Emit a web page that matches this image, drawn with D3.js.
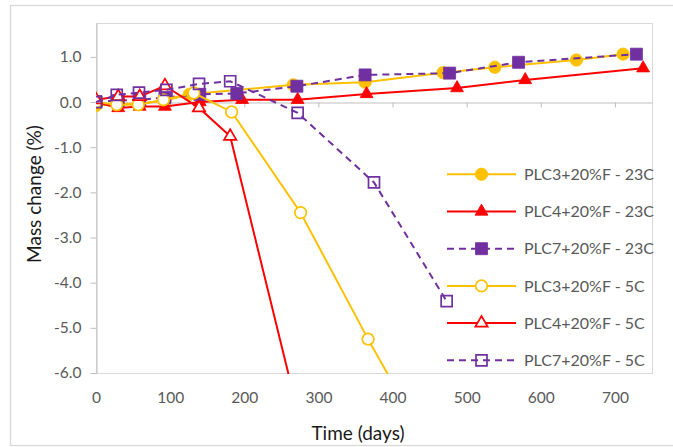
<!DOCTYPE html>
<html><head><meta charset="utf-8">
<script src="https://cdn.jsdelivr.net/npm/d3@7"></script>
<style>
html,body{margin:0;padding:0;background:#fff;}
svg{display:block;font-family:Lato, "Open Sans", sans-serif;}
</style></head>
<body><svg id="c" width="673" height="447"></svg>
<script>
// ---- data ----
const seriesNames = ["PLC3+20%F - 23C","PLC4+20%F - 23C","PLC7+20%F - 23C","PLC3+20%F - 5C","PLC4+20%F - 5C","PLC7+20%F - 5C"];
const days_PLC3_23 = [0, 30, 59, 93, 126, 266, 363, 468, 538, 648, 711];
const mass_PLC3_23 = [-0.08, -0.04, -0.03, 0.03, 0.17, 0.38, 0.44, 0.65, 0.77, 0.93, 1.06];
const days_PLC4_23 = [0, 30, 59, 93, 140, 197, 272, 365, 487, 579, 738];
const mass_PLC4_23 = [0.0, -0.13, -0.1, -0.1, 0.0, 0.05, 0.05, 0.18, 0.31, 0.49, 0.75];
const days_PLC7_23 = [0, 30, 59, 93, 140, 190, 271, 363, 477, 570, 729];
const mass_PLC7_23 = [0.01, 0.03, 0.05, 0.1, 0.17, 0.19, 0.35, 0.6, 0.64, 0.88, 1.06];
const days_PLC3_5 = [0, 28, 57, 91, 132, 183, 276, 367, 475];
const mass_PLC3_5 = [0.0, -0.06, -0.06, 0.05, 0.2, -0.22, -2.45, -5.25, -8.4];
const days_PLC4_5 = [0, 30, 59, 93, 139, 181, 272];
const mass_PLC4_5 = [0.05, 0.12, 0.12, 0.36, -0.13, -0.76, -6.85];
const days_PLC7_5 = [0, 28, 58, 95, 139, 181, 272, 375, 473];
const mass_PLC7_5 = [0.0, 0.16, 0.21, 0.27, 0.4, 0.46, -0.24, -1.78, -4.41];
const xTicks = [0, 100, 200, 300, 400, 500, 600, 700];
const yTicks = [-6, -5, -4, -3, -2, -1, 0, 1];

// ---- styles ----
const YEL = "#FFC000", RED = "#FF0000", PUR = "#7030A0";
const styles = [
  {color: YEL, shape: "circle", filled: true, dash: null},
  {color: RED, shape: "triangle", filled: true, dash: null},
  {color: PUR, shape: "square", filled: true, dash: "7,5"},
  {color: YEL, shape: "circle", filled: false, dash: null},
  {color: RED, shape: "triangle", filled: false, dash: null},
  {color: PUR, shape: "square", filled: false, dash: "7,5"}
];
const dayArrs = [days_PLC3_23, days_PLC4_23, days_PLC7_23, days_PLC3_5, days_PLC4_5, days_PLC7_5];
const massArrs = [mass_PLC3_23, mass_PLC4_23, mass_PLC7_23, mass_PLC3_5, mass_PLC4_5, mass_PLC7_5];
const series = seriesNames.map((n, i) => ({name: n, style: styles[i],
  pts: dayArrs[i].map((d, j) => [d, massArrs[i][j]])}));

const svg = d3.select("#c");
const L = 96, R = 652, T = 23, B = 373;
const x = d3.scaleLinear().domain([0, 750]).range([L, R]);
const y = d3.scaleLinear().domain([-6, 1.75]).range([B, T]);

// chart border
svg.append("rect").attr("x", 10.5).attr("y", 5.5).attr("width", 720).attr("height", 440)
  .attr("fill", "#fff").attr("stroke", "#D9D9D9").attr("stroke-width", 1.3);
// plot area border
svg.append("rect").attr("x", L + 0.5).attr("y", T + 0.5).attr("width", R - L).attr("height", B - T)
  .attr("fill", "none").attr("stroke", "#D9D9D9").attr("stroke-width", 1);

// y axis
const yAx = svg.append("g").attr("transform", `translate(${L + 0.5},0)`)
  .call(d3.axisLeft(y).tickValues(yTicks).tickSize(6).tickSizeOuter(0).tickPadding(9)
    .tickFormat(d => d.toFixed(1)));
yAx.select(".domain").attr("stroke", "#BFBFBF");
yAx.selectAll(".tick line").attr("stroke", "#BFBFBF");
yAx.selectAll("text").attr("fill", "#595959").style("font-size", "15.5px").style("font-family", "Lato");

// x axis on zero line
const x0 = Math.round(y(0)) + 0.5;
const xAx = svg.append("g").attr("transform", `translate(0,${x0})`)
  .call(d3.axisBottom(x).tickValues(xTicks).tickSize(5).tickSizeOuter(0).tickFormat(""));
xAx.select(".domain").attr("stroke", "#BFBFBF");
xAx.selectAll(".tick line").attr("stroke", "#BFBFBF");
// x labels low
const xLab = svg.append("g").attr("transform", `translate(0,${B})`)
  .call(d3.axisBottom(x).tickValues(xTicks).tickSize(0).tickPadding(19).tickFormat(d => d));
xLab.select(".domain").remove();
xLab.selectAll("text").attr("fill", "#595959").style("font-size", "15.5px").style("font-family", "Lato");

// titles
svg.append("text").attr("x", 358).attr("y", 440).attr("text-anchor", "middle")
  .attr("fill", "#1a1a1a").style("font-size", "19px").text("Time (days)");
svg.append("text").attr("transform", "translate(41,194) rotate(-90)").attr("text-anchor", "middle")
  .attr("fill", "#1a1a1a").style("font-size", "19px").text("Mass change (%)");

// clip
svg.append("clipPath").attr("id", "clip").append("rect")
  .attr("x", L).attr("y", T).attr("width", R - L + 1).attr("height", B - T + 1);
const plot = svg.append("g").attr("clip-path", "url(#clip)");

const line = d3.line().x(d => x(d[0])).y(d => y(d[1]));
function symFor(st) {
  if (st.shape === "circle") return d3.symbol(d3.symbolCircle, st.filled ? 120 : 105)();
  if (st.shape === "square") return d3.symbol(d3.symbolSquare, st.filled ? 144 : 121)();
  return d3.symbol(d3.symbolTriangle, st.filled ? 72 : 66)();
}
function drawMarker(g, st, px, py) {
  g.append("path").attr("d", symFor(st)).attr("transform", `translate(${px},${py})`)
    .attr("fill", st.filled ? st.color : (st.shape === "square" ? "none" : "#fff"))
    .attr("stroke", st.color).attr("stroke-width", st.filled ? 0.8 : 1.7);
}

series.forEach(s => {
  const g = plot.append("g");
  g.append("path").datum(s.pts).attr("d", line).attr("fill", "none")
    .attr("stroke", s.style.color).attr("stroke-width", 2)
    .attr("stroke-dasharray", s.style.dash);
  s.pts.forEach(p => drawMarker(g, s.style, x(p[0]), y(p[1])));
});

// legend
const legY0 = 174.3, legDy = 37.2;
series.forEach((s, i) => {
  const g = svg.append("g");
  const yy = legY0 + i * legDy;
  g.append("line").attr("x1", 447).attr("x2", 516).attr("y1", yy).attr("y2", yy)
    .attr("stroke", s.style.color).attr("stroke-width", 2).attr("stroke-dasharray", s.style.dash);
  drawMarker(g, s.style, 481.5, yy);
  g.append("text").attr("x", 524).attr("y", yy).attr("dy", "0.36em")
    .attr("fill", "#595959").style("font-size", "16px").text(s.name);
});
</script></body></html>
